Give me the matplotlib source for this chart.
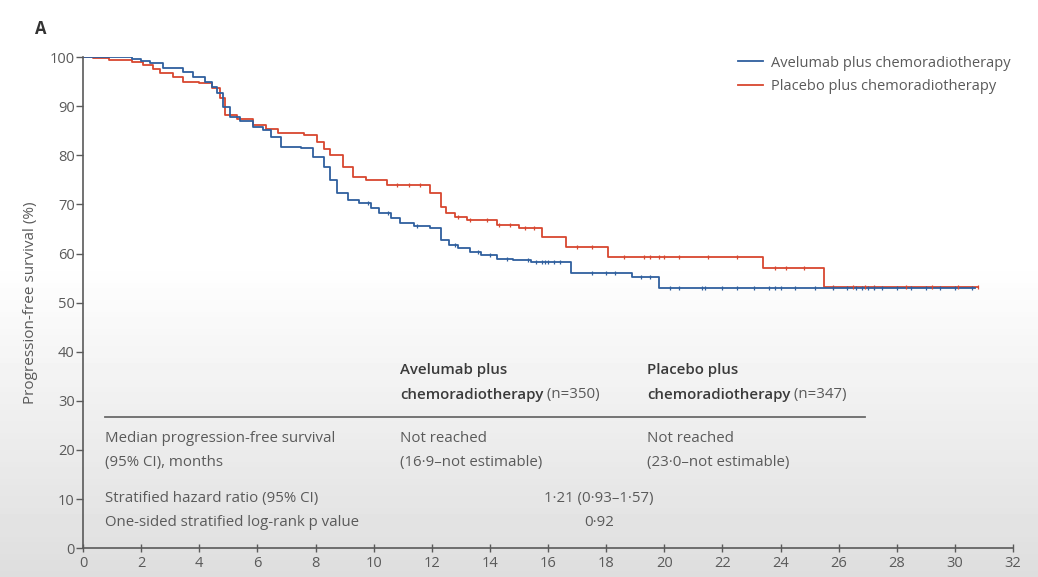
import numpy as np
import matplotlib
matplotlib.use('Agg')
import matplotlib.pyplot as plt

# Kaplan-Meier steps (months, % progression-free)
ave_t = [0, 1.7, 2.0, 2.3, 2.75, 3.45, 3.8, 4.2, 4.45, 4.6, 4.8, 5.05, 5.4, 5.85, 6.2, 6.45, 6.8, 7.5,
         7.9, 8.3, 8.5, 8.75, 9.1, 9.5, 9.9, 10.2, 10.6, 10.9, 11.4, 11.95, 12.3, 12.6, 12.9, 13.3, 13.7,
         14.25, 14.8, 15.4, 16.8, 18.9, 19.8, 30.7]
ave_v = [100, 99.6, 99.2, 98.8, 97.8, 97.0, 96.0, 95.0, 94.0, 92.7, 89.8, 87.8, 87.0, 85.8, 85.1, 83.7,
         81.7, 81.5, 79.6, 77.6, 75.0, 72.3, 70.9, 70.3, 69.2, 68.2, 67.2, 66.2, 65.7, 65.2, 62.7, 61.8,
         61.1, 60.4, 59.7, 58.9, 58.6, 58.3, 56.1, 55.2, 53.0, 53.0]
pla_t = [0, 0.35, 0.9, 1.7, 2.05, 2.4, 2.65, 3.1, 3.45, 4.0, 4.45, 4.7, 4.9, 5.3, 5.85, 6.3, 6.7, 7.6,
         8.05, 8.3, 8.5, 8.95, 9.3, 9.75, 10.45, 11.95, 12.3, 12.5, 12.8, 13.2, 14.25, 15.0, 15.8, 16.6,
         18.07, 23.4, 25.5, 30.8]
pla_v = [100, 99.8, 99.4, 99.0, 98.4, 97.5, 96.7, 96.0, 95.0, 94.7, 93.7, 91.6, 88.2, 87.5, 86.2, 85.3,
         84.5, 84.1, 82.7, 81.3, 80.0, 77.6, 75.6, 75.0, 73.9, 72.3, 69.5, 68.2, 67.5, 66.8, 65.8, 65.2,
         63.4, 61.4, 59.3, 57.0, 53.2, 53.2]

# censoring marks (months)
ave_cens = [9.8, 10.5, 11.5, 12.8, 13.6, 14.0, 14.6, 15.3, 15.6, 15.8, 15.9, 16.0, 16.2, 16.4, 17.5,
            18.0, 18.3, 19.2, 19.5, 20.2, 20.5, 21.3, 21.4, 22.0, 22.5, 23.1, 23.6, 23.8, 24.0, 24.5,
            25.2, 25.8, 26.3, 26.6, 26.8, 27.0, 27.2, 27.5, 28.0, 28.5, 29.0, 29.5, 30.0, 30.6]
pla_cens = [10.8, 11.2, 11.6, 12.9, 13.3, 13.9, 14.3, 14.7, 15.2, 15.5, 17.0, 17.5, 18.6, 19.3, 19.5,
            19.8, 20.0, 20.5, 21.5, 22.5, 23.8, 24.2, 24.8, 25.8, 26.5, 26.9, 27.2, 28.3, 29.2, 30.1, 30.8]

labels = ['Avelumab plus chemoradiotherapy', 'Placebo plus chemoradiotherapy']
blue = '#2f5f9e'
red = '#d8472f'
grey = '#5a5a5a'


def step_at(ts, vs, x):
    idx = np.searchsorted(ts, x, side='right') - 1
    return np.array(vs)[idx]


fig = plt.figure(figsize=(10.38, 5.77), dpi=100)
plt.rcParams['font.family'] = ['Open Sans', 'DejaVu Sans']

# light grey shading towards the bottom, like the source screenshot
bg = fig.add_axes([0, 0, 1, 1], zorder=-5)
grad = np.concatenate([np.zeros(45), np.linspace(0, 1, 55)])[:, None]
bg.imshow(1 - 0.13 * grad, aspect='auto', cmap='gray', vmin=0, vmax=1, extent=[0, 1, 0, 1])
bg.axis('off')

ax = fig.add_axes([0.080, 0.050, 0.896, 0.851])
ax.patch.set_alpha(0)

ax.step(pla_t, pla_v, where='post', color=red, lw=1.3, label=labels[1])
ax.step(ave_t, ave_v, where='post', color=blue, lw=1.3, label=labels[0])
ax.plot(pla_cens, step_at(pla_t, pla_v, pla_cens), ls='none', marker='|', ms=3.5, mew=0.9, color=red)
ax.plot(ave_cens, step_at(ave_t, ave_v, ave_cens), ls='none', marker='|', ms=3.5, mew=0.9, color=blue)

ax.set_xlim(0, 32)
ax.set_ylim(0, 100)
ax.set_xticks(np.arange(0, 33, 2))
ax.set_yticks(np.arange(0, 101, 10))
for s in ['top', 'right']:
    ax.spines[s].set_visible(False)
for s in ['left', 'bottom']:
    ax.spines[s].set_color(grey)
    ax.spines[s].set_linewidth(1.2)
ax.tick_params(axis='y', direction='out', length=5, width=1, colors=grey, labelsize=10.5, pad=1)
ax.tick_params(axis='x', direction='inout', length=6, width=1, colors=grey, labelsize=10.5, pad=3)
ax.set_ylabel('Progression-free survival (%)', color=grey, fontsize=11, labelpad=8)

handles, labs = ax.get_legend_handles_labels()
leg = ax.legend(handles[::-1], labs[::-1], loc='upper right', bbox_to_anchor=(1.012, 1.03), frameon=False,
                fontsize=10.5, handlelength=1.7, handletextpad=0.6, labelspacing=0.6)
for t in leg.get_texts():
    t.set_color(grey)

fig.text(0.034, 0.95, 'A', fontsize=12, fontweight='bold', color='#333333', va='center')

# summary table inside the plot
fs = 10.8
hd = '#3a3a3a'
ax.text(10.9, 36.3, 'Avelumab plus', fontsize=fs, color=hd, fontweight='semibold', va='center')
t1 = ax.text(10.9, 31.2, 'chemoradiotherapy', fontsize=fs, color=hd, fontweight='semibold', va='center')
ax.annotate(' (n=350)', xy=(1, 0.5), xycoords=t1, fontsize=fs, color=grey, va='center')
ax.text(19.4, 36.3, 'Placebo plus', fontsize=fs, color=hd, fontweight='semibold', va='center')
t2 = ax.text(19.4, 31.2, 'chemoradiotherapy', fontsize=fs, color=hd, fontweight='semibold', va='center')
ax.annotate(' (n=347)', xy=(1, 0.5), xycoords=t2, fontsize=fs, color=grey, va='center')
ax.plot([0.75, 26.9], [26.7, 26.7], color='#6a6a6a', lw=1.3)
ax.text(0.75, 22.3, 'Median progression-free survival', fontsize=fs, color=grey, va='center')
ax.text(0.75, 17.4, '(95% CI), months', fontsize=fs, color=grey, va='center')
ax.text(10.9, 22.3, 'Not reached', fontsize=fs, color=grey, va='center')
ax.text(10.9, 17.4, '(16\u00b79\u2013not estimable)', fontsize=fs, color=grey, va='center')
ax.text(19.4, 22.3, 'Not reached', fontsize=fs, color=grey, va='center')
ax.text(19.4, 17.4, '(23\u00b70\u2013not estimable)', fontsize=fs, color=grey, va='center')
ax.text(0.75, 10.2, 'Stratified hazard ratio (95% CI)', fontsize=fs, color=grey, va='center')
ax.text(0.75, 5.3, 'One-sided stratified log-rank p value', fontsize=fs, color=grey, va='center')
ax.text(17.75, 10.2, '1\u00b721 (0\u00b793\u20131\u00b757)', fontsize=fs, color=grey, va='center', ha='center')
ax.text(17.75, 5.3, '0\u00b792', fontsize=fs, color=grey, va='center', ha='center')

fig.savefig('out.png', dpi=100)
